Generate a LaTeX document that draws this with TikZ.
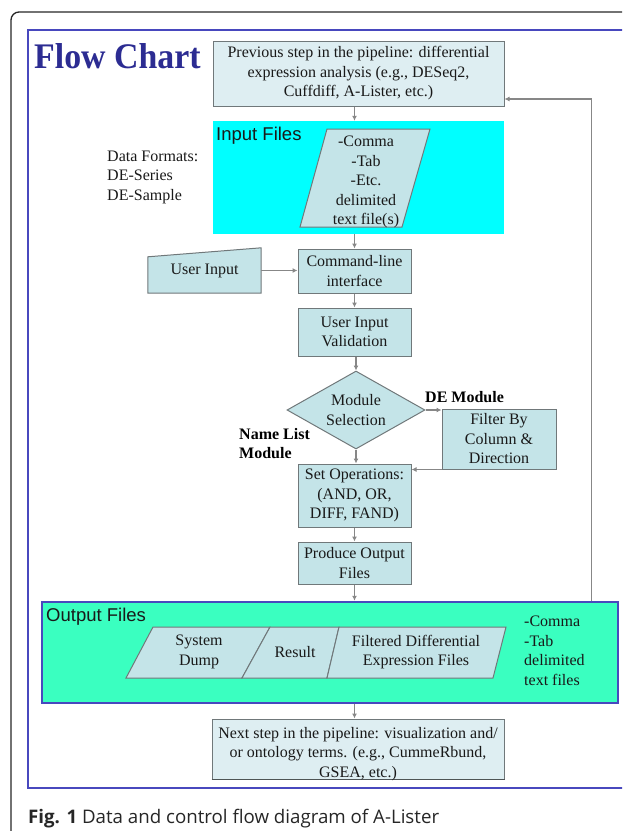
\documentclass[tikz,border=0pt]{standalone}
\usepackage{fontspec}
\setmainfont{Liberation Serif}
\newfontfamily\arialf{Liberation Sans}
\newfontfamily\capf{Open Sans}
\usetikzlibrary{shapes.geometric,arrows.meta}
\pgfdeclarelayer{background}
\pgfsetlayers{background,main}
\definecolor{boxfill}{RGB}{196,228,232}
\definecolor{palefill}{RGB}{222,238,242}
\definecolor{boxline}{RGB}{112,120,122}
\definecolor{cyanfill}{RGB}{0,255,255}
\definecolor{greenfill}{RGB}{58,255,192}
\definecolor{frameblue}{RGB}{72,72,190}
\definecolor{titleblue}{RGB}{44,44,146}
\definecolor{arrowgray}{RGB}{135,135,135}
\definecolor{txt}{RGB}{25,25,25}
\newcommand{\bodysize}{\fontsize{16}{19.5}\selectfont}
\tikzset{
  box/.style={draw=boxline, fill=boxfill, line width=1pt, inner sep=0pt, align=center, text=txt},
  pale/.style={box, fill=palefill},
  flow/.style={draw=arrowgray, line width=1.3pt, -{Latex[length=5pt,width=5pt]}},
  lbl/.style={inner sep=0pt, align=left, text=txt},
  boldlbl/.style={lbl, anchor=west, font=\bodysize\bfseries, text=black},
  ctxt/.style={inner sep=0pt, align=center, text=txt},
  para/.style={draw=boxline, fill=boxfill, line width=1pt},
  sanslbl/.style={inner sep=0pt, anchor=west, font=\arialf\fontsize{18.5}{20}\selectfont, text=txt}
}
\begin{document}
\begin{tikzpicture}[x=1pt,y=-1pt,font=\bodysize]
\useasboundingbox (0,0) rectangle (622,831);
\clip (0,0) rectangle (622,831);
% frames
\draw[black!85, line width=1.3pt, rounded corners=8pt] (11,860) -- (11,12) -- (660,12);
\draw[frameblue, line width=2.5pt] (28,30) rectangle (660,788);
% title
\node[anchor=west, inner sep=0pt, text=titleblue] (title) at (34,55.7) {\scalebox{0.94}[1.0]{\fontsize{36}{40}\selectfont\bfseries Flow Chart}};
% previous step
\node[pale, minimum width=291pt, minimum height=65pt] (prev) at (358.5,73.5) {Previous step in the pipeline: differential\\expression analysis (e.g., DESeq2,\\Cuffdiff, A-Lister, etc.)};
% input files
\node[fill=cyanfill, minimum width=291pt, minimum height=113pt, inner sep=0pt] (inp) at (358.5,177.5) {};
\node[sanslbl] (inlbl) at (216,136) {Input Files};
\draw[para] (327,129) -- (430,129) -- (402,227) -- (300,227) -- cycle;
\node[ctxt] (inpara) at (366,182) {-Comma\\-Tab\\-Etc.\\delimited\\text file(s)};
\node[lbl, anchor=west] (fmt) at (107,177) {Data Formats:\\DE-Series\\DE-Sample};
% command line
\node[box, minimum width=113pt, minimum height=44pt] (cmd) at (354.5,271) {Command-line\\interface};
\node[ctxt, minimum width=113pt, minimum height=45pt] (ui) at (204.5,270.5) {User Input};
\begin{pgfonlayer}{background}
\draw[para] (ui.south west) -- (ui.south east) -- (ui.north east) -- ([yshift=-9pt]ui.north west) -- cycle;
\end{pgfonlayer}
\node[box, minimum width=113pt, minimum height=48pt] (val) at (354.5,332) {User Input\\Validation};
\node[box, diamond, aspect=1.77, minimum width=138pt, minimum height=78pt] (dia) at (356,410) {Module\\Selection};
\node[box, minimum width=114pt, minimum height=60pt] (filt) at (499,439) {Filter By\\Column \&\\Direction};
\node[box, minimum width=113pt, minimum height=63pt] (set) at (354.5,495.5) {Set Operations:\\(AND, OR,\\DIFF, FAND)};
\node[box, minimum width=113pt, minimum height=42pt] (prod) at (354.5,563) {Produce Output\\Files};
\node[boldlbl] (delbl) at (425,397) {DE Module};
\node[boldlbl] (nllbl) at (239,443.5) {Name List\\Module};
% output files
\node[draw=frameblue, line width=2.5pt, fill=greenfill, minimum width=576pt, minimum height=101pt, inner sep=0pt] (out) at (330,652.5) {};
\node[sanslbl] (outlbl) at (46,617) {Output Files};
\draw[para] (153,627) -- (270,627) -- (242,678) -- (126,678) -- cycle;
\draw[para] (270,627) -- (339,627) -- (327,678) -- (242,678) -- cycle;
\draw[para] (339,627) -- (506,627) -- (493,678) -- (327,678) -- cycle;
\node[ctxt] (sd) at (199,652) {System\\Dump};
\node[ctxt] (res) at (295,652) {Result};
\node[ctxt] (fde) at (416,652) {Filtered Differential\\Expression Files};
\node[lbl, anchor=west] (fmtout) at (524,651) {-Comma\\-Tab\\delimited\\text files};
% next step
\node[pale, minimum width=292pt, minimum height=60pt] (next) at (358,749) {};
\draw[boxline!70!black, line width=1.6pt] (next.south west) -- (next.south east);
\node[ctxt] (nexttxt) at (358,754) {Next step in the pipeline: visualization and/\\or ontology terms. (e.g., CummeRbund,\\GSEA, etc.)};
% connectors
\draw[flow] (prev.south -| cmd.north) -- (inp.north -| cmd.north);
\draw[flow] (inp.south -| cmd.north) -- (cmd.north);
\draw[flow] (ui.east) -- (ui.east -| cmd.west);
\draw[flow] (cmd.south) -- (val.north);
\draw[flow] (val.south -| dia.north) -- (dia.north);
\draw[flow] (dia.east) -- (dia.east -| filt.west);
\draw[flow] (dia.south) -- (dia.south |- set.north);
\draw[flow] (filt.south west) -- (filt.south west -| set.east);
\draw[flow] (set.south) -- (prod.north);
\draw[flow] (prod.south) -- (prod.south |- out.north);
\draw[flow] ([xshift=-28pt]out.north east) |- ([yshift=-25.5pt]prev.east);
\draw[flow] (out.south -| cmd.south) -- (next.north -| cmd.south);
% caption
\node[anchor=base west, inner sep=0pt, font=\capf\fontsize{18.7}{20}\selectfont, text=black!85] (cap) at (28,823) {\textbf{Fig. 1} Data and control flow diagram of A-Lister};
\end{tikzpicture}
\end{document}
